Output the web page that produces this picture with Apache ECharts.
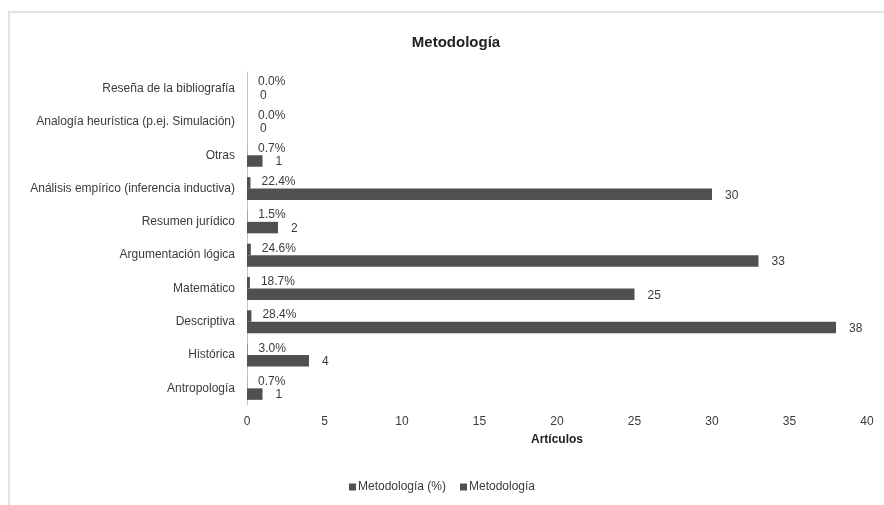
<!DOCTYPE html>
<html>
<head>
<meta charset="utf-8">
<script src="https://cdn.jsdelivr.net/npm/echarts@6/dist/echarts.min.js"></script>
<style>
html,body{margin:0;padding:0;background:#fff;}
#chart{width:884px;height:505px;}
</style>
</head>
<body>
<div id="chart"></div>
<script>
// Categories listed bottom to top
const categories = [
  'Antropología',
  'Histórica',
  'Descriptiva',
  'Matemático',
  'Argumentación lógica',
  'Resumen jurídico',
  'Análisis empírico (inferencia inductiva)',
  'Otras',
  'Analogía heurística (p.ej. Simulación)',
  'Reseña de la bibliografía'
];
// Metodología (%) — shares as fractions
const pctValues = [0.007, 0.030, 0.284, 0.187, 0.246, 0.015, 0.224, 0.007, 0.000, 0.000];
// Metodología — article counts
const countValues = [1, 4, 38, 25, 33, 2, 30, 1, 0, 0];
const xTicks = [0, 5, 10, 15, 20, 25, 30, 35, 40];

const FONT = '"Liberation Sans", Arial, sans-serif';
const BAR = '#505050';
const TXT = '#3a3a3a';

const chart = echarts.init(document.getElementById('chart'), null, {renderer: 'canvas'});
chart.setOption({
  animation: false,
  backgroundColor: '#ffffff',
  textStyle: {fontFamily: FONT},
  graphic: [{
    type: 'rect',
    shape: {x: 9, y: 12, width: 1000, height: 1000},
    style: {fill: 'none', stroke: '#e2e2e2', lineWidth: 2},
    silent: true
  }],
  title: {
    text: 'Metodología',
    left: 451, top: 30, textAlign: 'center',
    textStyle: {fontFamily: FONT, fontSize: 15, fontWeight: 'bold', color: '#222'}
  },
  legend: {
    data: ['Metodología (%)', 'Metodología'],
    bottom: 7, left: 'center',
    itemWidth: 7, itemHeight: 7, itemGap: 14,
    icon: 'rect',
    textStyle: {fontFamily: FONT, fontSize: 12, color: TXT, padding: [0,0,0,-3]}
  },
  grid: {left: 247, right: 17, top: 72, bottom: 100},
  xAxis: {
    type: 'value', min: xTicks[0], max: xTicks[xTicks.length-1], interval: 5,
    name: 'Artículos', nameLocation: 'middle', nameGap: 29,
    nameTextStyle: {fontFamily: FONT, fontSize: 12, fontWeight: 'bold', color: '#222'},
    axisLine: {show: false}, axisTick: {show: false}, splitLine: {show: false},
    axisLabel: {fontFamily: FONT, fontSize: 12, color: TXT, margin: 11}
  },
  yAxis: {
    type: 'category', data: categories,
    axisLine: {show: true, lineStyle: {color: '#c4c4c4', width: 1}},
    axisTick: {show: false},
    axisLabel: {fontFamily: FONT, fontSize: 12, color: TXT, margin: 12}
  },
  series: [
    {
      name: 'Metodología (%)', type: 'bar', data: pctValues,
      barGap: '0%', barCategoryGap: '31%',
      itemStyle: {color: BAR},
      label: {
        show: true, position: 'right', distance: 11, offset: [0, -1],
        fontFamily: FONT, fontSize: 12, color: TXT,
        formatter: p => (p.value * 100).toFixed(1) + '%'
      }
    },
    {
      name: 'Metodología', type: 'bar', data: countValues,
      barGap: '0%', barCategoryGap: '31%',
      itemStyle: {color: BAR},
      label: {
        show: true, position: 'right', distance: 13, offset: [0, 1],
        fontFamily: FONT, fontSize: 12, color: TXT
      }
    }
  ]
});
</script>
</body>
</html>
